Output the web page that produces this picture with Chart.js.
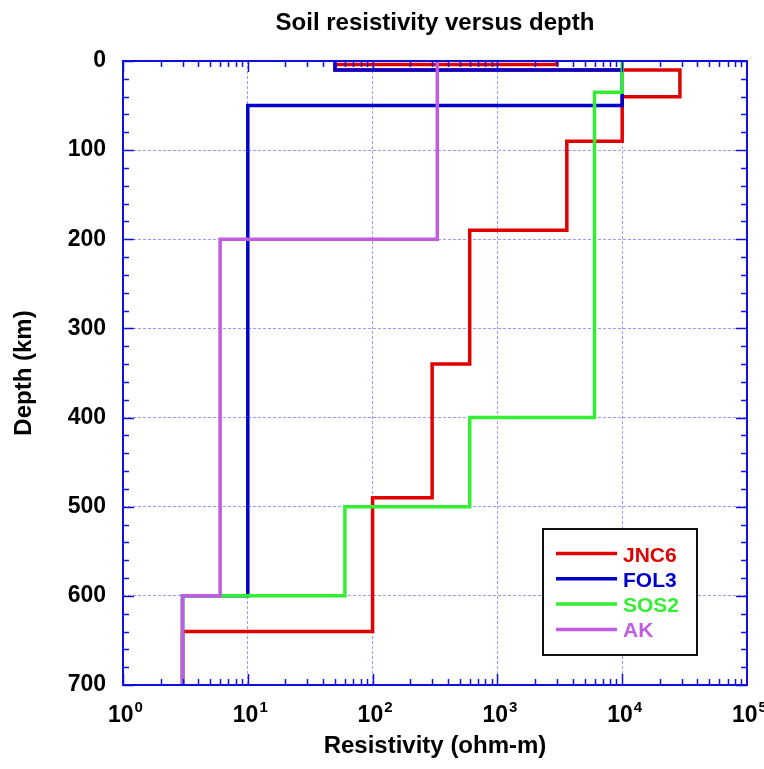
<!DOCTYPE html>
<html>
<head>
<meta charset="utf-8">
<script src="https://cdn.jsdelivr.net/npm/chart.js@4/dist/chart.umd.min.js"></script>
<style>
  html, body { margin: 0; padding: 0; background: #ffffff; }
  #wrap { width: 764px; height: 769px; }
</style>
</head>
<body>
<div id="wrap"><canvas id="chart" width="764" height="769"></canvas></div>
<script>
// layer models: resistivity (ohm-m) and depth of the top of each layer (km)
const seriesNames = ["JNC6", "FOL3", "SOS2", "AK"];
const seriesColors = ["#e00000", "#0000cc", "#33ee33", "#c05ce0"];

const jnc6Rho = [3000, 50, 29000, 10000, 3600, 600, 300, 100, 3];
const jnc6Top = [0, 4, 10, 40, 90, 190, 340, 490, 640];

const fol3Rho = [50, 10000, 10, 3];
const fol3Top = [0, 10, 50, 600];

const sos2Rho = [10000, 6000, 600, 60, 3];
const sos2Top = [0, 35, 400, 500, 600];

const akRho = [330, 6, 3];
const akTop = [0, 200, 600];

const maxDepth = 700;
const xDecades = [1, 10, 100, 1000, 10000, 100000];
const xExponents = ["0", "1", "2", "3", "4", "5"];
const depthTicks = [0, 100, 200, 300, 400, 500, 600, 700];

const FONT = "'Liberation Sans', Arial, Helvetica, sans-serif";
const AXIS_BLUE = "#1010dd";

// turn layer lists into a stepped profile
function profile(rho, top) {
  const pts = [];
  rho.forEach((r, i) => {
    const bottom = i + 1 < top.length ? top[i + 1] : maxDepth;
    pts.push({ x: r, y: top[i] });
    pts.push({ x: r, y: bottom });
  });
  return pts;
}

const models = [
  profile(jnc6Rho, jnc6Top),
  profile(fol3Rho, fol3Top),
  profile(sos2Rho, sos2Top),
  profile(akRho, akTop),
];

const datasets = models.map((pts, i) => ({
  label: seriesNames[i],
  data: pts,
  borderColor: seriesColors[i],
  backgroundColor: seriesColors[i],
  borderWidth: 3.5,
  pointRadius: 0,
  showLine: true,
  tension: 0,
  order: seriesNames.length - i,
}));

const decorations = {
  id: "decorations",
  afterDraw(chart) {
    const ctx = chart.ctx;
    const area = chart.chartArea;
    const xs = chart.scales.x;
    const ys = chart.scales.y;
    ctx.save();

    // inner ticks on all four sides
    ctx.strokeStyle = AXIS_BLUE;
    ctx.lineWidth = 1.5;
    ctx.beginPath();
    for (let d = 0; d < 5; d++) {
      for (let m = 1; m <= 9; m++) {
        const v = m * Math.pow(10, d);
        const px = Math.round(xs.getPixelForValue(v)) + 0.5;
        const len = m === 1 ? 11 : 6;
        ctx.moveTo(px, area.bottom);
        ctx.lineTo(px, area.bottom - len);
        ctx.moveTo(px, area.top);
        ctx.lineTo(px, area.top + len);
      }
    }
    for (let v = 0; v <= maxDepth; v += 20) {
      const py = Math.round(ys.getPixelForValue(v)) + 0.5;
      const len = v % 100 === 0 ? 11 : 6;
      ctx.moveTo(area.left, py);
      ctx.lineTo(area.left + len, py);
      ctx.moveTo(area.right, py);
      ctx.lineTo(area.right - len, py);
    }
    ctx.stroke();

    // frame
    ctx.lineWidth = 2;
    ctx.strokeRect(area.left, area.top, area.right - area.left, area.bottom - area.top);

    // x tick labels as 10^n
    ctx.fillStyle = "#000000";
    ctx.textBaseline = "alphabetic";
    xDecades.forEach((v, i) => {
      const px = xs.getPixelForValue(v);
      ctx.font = "bold 23px " + FONT;
      ctx.textAlign = "left";
      const baseW = ctx.measureText("10").width;
      ctx.fillText("10", px - 15, 722);
      ctx.font = "bold 15px " + FONT;
      ctx.fillText(xExponents[i], px - 15 + baseW + 1, 712);
    });

    // titles
    ctx.textAlign = "center";
    ctx.font = "bold 24px " + FONT;
    ctx.fillText("Soil resistivity versus depth", (area.left + area.right) / 2, 30);
    ctx.fillText("Resistivity (ohm-m)", (area.left + area.right) / 2, 753);
    ctx.save();
    ctx.translate(31, (area.top + area.bottom) / 2);
    ctx.rotate(-Math.PI / 2);
    ctx.fillText("Depth (km)", 0, 0);
    ctx.restore();

    // legend box
    const box = { x: 543, y: 529, w: 154, h: 126 };
    ctx.fillStyle = "#ffffff";
    ctx.fillRect(box.x, box.y, box.w, box.h);
    ctx.strokeStyle = "#111111";
    ctx.lineWidth = 2;
    ctx.strokeRect(box.x, box.y, box.w, box.h);
    ctx.font = "bold 21px " + FONT;
    ctx.textAlign = "left";
    seriesNames.forEach((name, i) => {
      const cy = 553.5 + i * 25.3;
      ctx.strokeStyle = seriesColors[i];
      ctx.lineWidth = 3.5;
      ctx.beginPath();
      ctx.moveTo(556, cy);
      ctx.lineTo(617, cy);
      ctx.stroke();
      ctx.fillStyle = seriesColors[i];
      ctx.fillText(name, 623, cy + 8);
    });

    ctx.restore();
  },
};

const gridStyle = {
  color: "rgba(70, 70, 255, 0.55)",
  lineWidth: 1,
  drawTicks: false,
};

new Chart(document.getElementById("chart"), {
  type: "scatter",
  data: { datasets },
  options: {
    responsive: false,
    animation: false,
    layout: { padding: { top: 61, right: 17, bottom: 0, left: 0 } },
    plugins: {
      legend: { display: false },
      title: { display: false },
      tooltip: { enabled: false },
    },
    scales: {
      x: {
        type: "logarithmic",
        min: 1,
        max: 100000,
        afterBuildTicks: (scale) => {
          scale.ticks = xDecades.map((v) => ({ value: v }));
        },
        afterFit: (scale) => {
          scale.height = 84;
        },
        ticks: { display: false },
        grid: gridStyle,
        border: { display: false, dash: [3, 2] },
      },
      y: {
        type: "linear",
        reverse: true,
        min: 0,
        max: maxDepth,
        afterBuildTicks: (scale) => {
          scale.ticks = depthTicks.map((v) => ({ value: v }));
        },
        afterFit: (scale) => {
          scale.width = 123;
        },
        ticks: {
          color: "#000000",
          padding: 17,
          font: { family: FONT, size: 23, weight: "bold" },
        },
        grid: gridStyle,
        border: { display: false, dash: [3, 2] },
      },
    },
  },
  plugins: [decorations],
});
</script>
</body>
</html>
